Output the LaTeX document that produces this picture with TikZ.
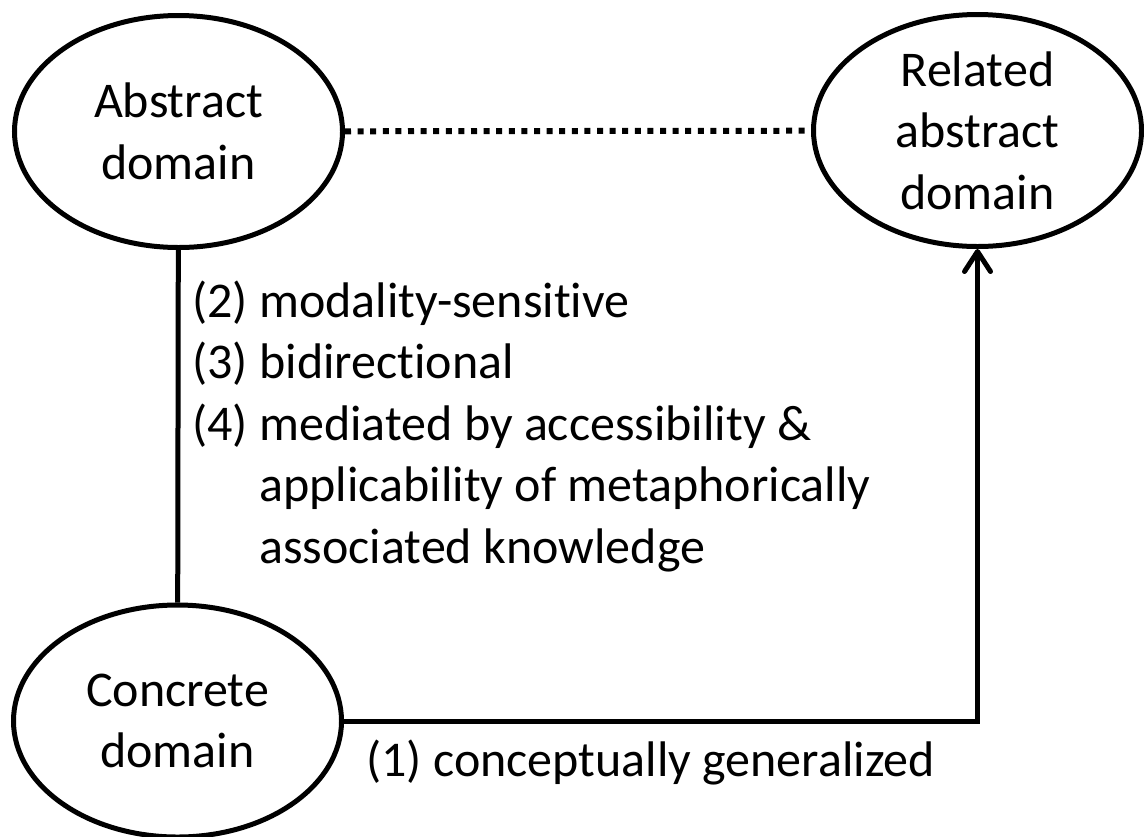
\documentclass[tikz,border=0pt]{standalone}
\usepackage{fontspec}
\setmainfont{Carlito}[Ligatures=NoCommon]
\usetikzlibrary{shapes.geometric,arrows.meta}
\tikzset{
  concept/.style={ellipse, draw, line width=2.5pt, minimum width=164pt,
    minimum height=116pt, inner sep=0pt, align=center},
  link/.style={line width=2.5pt},
}
\begin{document}
\begin{tikzpicture}[x=0.5pt,y=-0.5pt,font=\fontsize{25}{30.75}\selectfont]
  \useasboundingbox (0,0) rectangle (1144,836);
  \draw
    (178.5,131.5) node[concept] (abs){Abstract\\domain}
    (977.5,130.5) node[concept] (rel){Related\\abstract\\domain}
    (177.5,721) node[concept] (con){Concrete\\domain}
    (192,563) node[anchor=base west, align=left, inner sep=0pt] (props){(2) modality-sensitive\\(3) bidirectional\\(4) mediated by accessibility \&\\\hphantom{(4)}\ applicability of metaphorically\\\hphantom{(4)}\ associated knowledge}
    (366,776) node[anchor=base west, inner sep=0pt] (gen){(1) conceptually generalized};
  \begin{scope}[link]
    \draw (abs) to (con);
    \draw[line width=3pt, dash pattern=on 3pt off 3.3pt] (abs) to (rel);
    \draw[-{Straight Barb[length=10pt,width=13pt,round]}] (con) -| (rel);
  \end{scope}
\end{tikzpicture}
\end{document}
